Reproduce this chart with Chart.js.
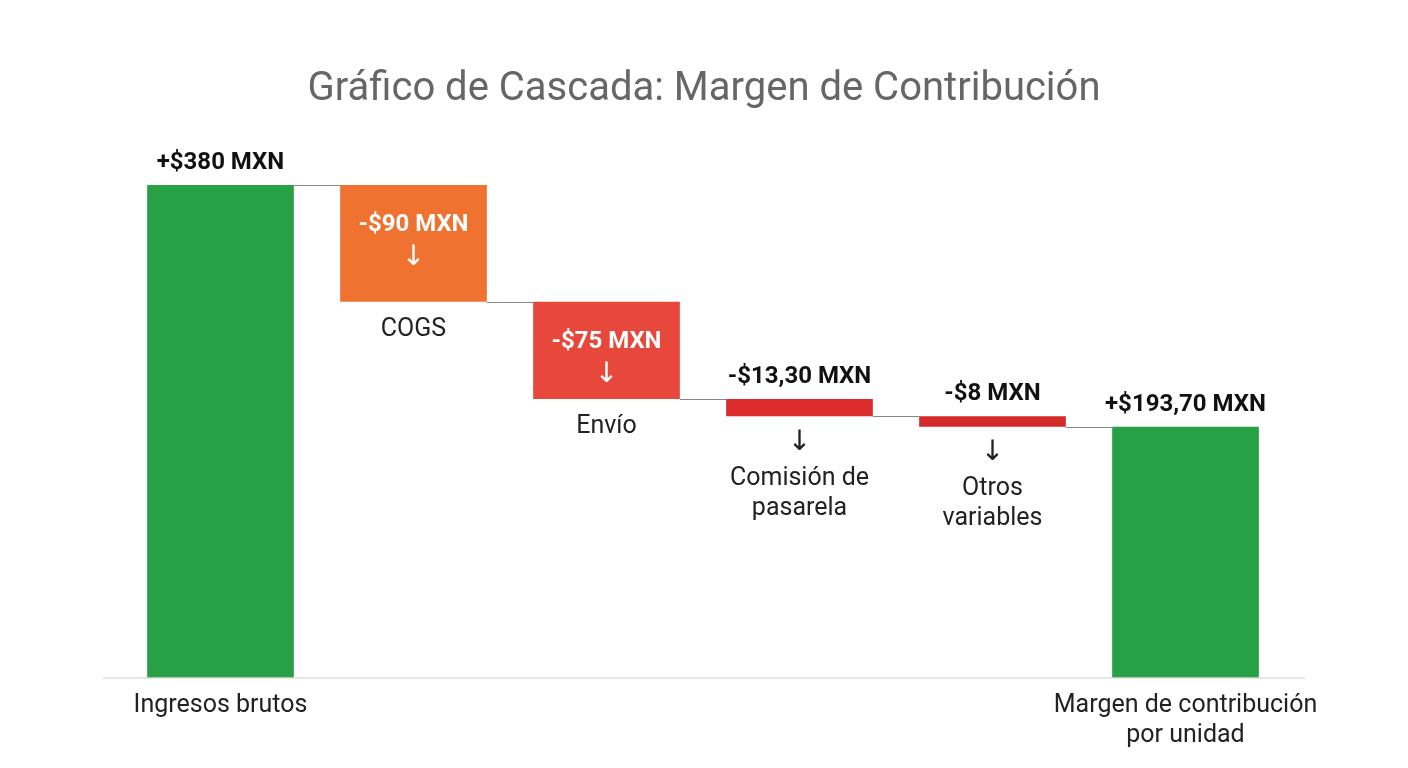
<!DOCTYPE html>
<html>
<head>
<meta charset="utf-8">
<script src="https://cdn.jsdelivr.net/npm/chart.js@4"></script>
<style>
  body { margin: 0; background: #fff; }
  canvas { display: block; }
</style>
</head>
<body>
<canvas id="cascada" width="1408" height="768"></canvas>
<script>
// Datos de la cascada
const categorias = [["Ingresos brutos"], ["COGS"], ["Envío"], ["Comisión de", "pasarela"], ["Otros", "variables"], ["Margen de contribución", "por unidad"]];
const cambios = [380, -90, -75, -13.3, -8, 193.7];
const esTotal = [true, false, false, false, false, true];
const etiquetas = ["+$380 MXN", "-$90 MXN", "-$75 MXN", "-$13,30 MXN", "-$8 MXN", "+$193,70 MXN"];
const colores = ["#27a046", "#f07230", "#e8473c", "#dc2b2b", "#d42a2a", "#27a046"];
const etiquetaDentro = [false, true, true, false, false, false];

// rangos flotantes
let acumulado = 0;
const rangos = cambios.map((v, i) => {
    if (esTotal[i]) { acumulado = v; return [0, v]; }
    const ini = acumulado;
    acumulado += v;
    return [acumulado, ini];
});

const fuente = "Roboto, 'Noto Sans', sans-serif";

const pluginCascada = {
    id: 'cascada',
    afterDatasetsDraw(chart) {
        const ctx = chart.ctx;
        const meta = chart.getDatasetMeta(0);
        const y = chart.scales.y;
        ctx.save();

        // título
        ctx.fillStyle = '#666';
        ctx.font = `40px ${fuente}`;
        ctx.textAlign = 'center';
        ctx.textBaseline = 'middle';
        ctx.fillText('Gráfico de Cascada: Margen de Contribución', 704, 90);

        // línea base
        ctx.strokeStyle = '#dcdcdc';
        ctx.lineWidth = 1.5;
        ctx.beginPath();
        ctx.moveTo(103, y.getPixelForValue(0));
        ctx.lineTo(1305, y.getPixelForValue(0));
        ctx.stroke();

        // conectores
        ctx.strokeStyle = '#888';
        ctx.lineWidth = 1;
        for (let i = 0; i < meta.data.length - 1; i++) {
            const a = meta.data[i], b = meta.data[i + 1];
            const nivel = esTotal[i] ? rangos[i][1] : rangos[i][0];
            const py = Math.round(y.getPixelForValue(nivel)) + 0.5;
            ctx.beginPath();
            ctx.moveTo(a.x + a.width / 2, py);
            ctx.lineTo(b.x - b.width / 2, py);
            ctx.stroke();
        }

        meta.data.forEach((bar, i) => {
            const top = y.getPixelForValue(rangos[i][1]);
            const bottom = y.getPixelForValue(rangos[i][0]);
            ctx.textAlign = 'center';
            ctx.textBaseline = 'middle';
            if (etiquetaDentro[i]) {
                ctx.fillStyle = '#fff';
                ctx.font = `bold 24px ${fuente}`;
                ctx.fillText(etiquetas[i], bar.x, top + 40);
                ctx.font = `28px 'DejaVu Sans', sans-serif`;
                ctx.fillText('↓', bar.x, top + 73);
                ctx.fillStyle = '#222';
                ctx.font = `25px ${fuente}`;
                categorias[i].forEach((t, k) => ctx.fillText(t, bar.x, bottom + 28 + k * 30));
            } else {
                ctx.fillStyle = '#111';
                ctx.font = `bold 24px ${fuente}`;
                ctx.fillText(etiquetas[i], bar.x, top - 22);
                ctx.fillStyle = '#222';
                if (esTotal[i]) {
                    ctx.font = `25px ${fuente}`;
                    categorias[i].forEach((t, k) => ctx.fillText(t, bar.x, bottom + 28 + k * 30));
                } else {
                    ctx.font = `28px 'DejaVu Sans', sans-serif`;
                    ctx.fillText('↓', bar.x, bottom + 26);
                    ctx.font = `25px ${fuente}`;
                    categorias[i].forEach((t, k) => ctx.fillText(t, bar.x, bottom + 62 + k * 30));
                }
            }
        });
        ctx.restore();
    }
};

new Chart(document.getElementById('cascada'), {
    type: 'bar',
    data: {
        labels: categorias.map(c => c.join(' ')),
        datasets: [{
            data: rangos,
            backgroundColor: colores,
            borderWidth: 0,
            categoryPercentage: 1,
            barPercentage: 0.76
        }]
    },
    options: {
        responsive: false,
        animation: false,
        layout: { padding: { top: 159, bottom: 90, left: 124, right: 126 } },
        plugins: { legend: { display: false }, tooltip: { enabled: false } },
        scales: {
            x: { display: false },
            y: { display: false, min: 0, max: 400 }
        }
    },
    plugins: [pluginCascada]
});
</script>
</body>
</html>
